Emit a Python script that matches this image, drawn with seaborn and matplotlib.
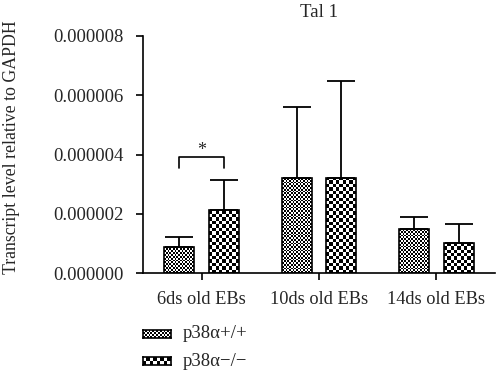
import numpy as np
import pandas as pd
import matplotlib
matplotlib.use("Agg")
import matplotlib.pyplot as plt
import seaborn as sns
from matplotlib.ticker import FormatStrFormatter

# === Données ===
groups = ["6ds old EBs", "10ds old EBs", "14ds old EBs"]
genotypes = ["p38\u03b1+/+", "p38\u03b1\u2212/\u2212"]
wt_mean = [0.88e-6, 3.20e-6, 1.48e-6]
wt_err = [0.33e-6, 2.40e-6, 0.41e-6]
ko_mean = [2.12e-6, 3.22e-6, 1.01e-6]
ko_err = [1.02e-6, 3.25e-6, 0.64e-6]

df = pd.DataFrame({
    "groupe": groups * 2,
    "genotype": [genotypes[0]] * 3 + [genotypes[1]] * 3,
    "valeur": wt_mean + ko_mean,
    "erreur": wt_err + ko_err,
})

sns.set_style("ticks")
plt.rcParams["font.family"] = ["Liberation Serif", "DejaVu Serif"]
plt.rcParams["font.size"] = 13

fig = plt.figure(figsize=(5, 3.75), dpi=100)
ax = fig.add_axes([143 / 500, 102 / 375, 352 / 500, 237 / 375])

sns.barplot(data=df, x="groupe", y="valeur", hue="genotype", order=groups,
            hue_order=genotypes, palette=["white", "white"], saturation=1,
            width=0.76, gap=0.33, edgecolor="black", linewidth=1.2,
            legend=False, ax=ax)
ax.set_xlim(-0.5, 2.5)
ax.set_ylim(0, 8e-6)
ax.set_yticks(np.arange(0, 8.1e-6, 2e-6))
ax.yaxis.set_major_formatter(FormatStrFormatter("%.6f"))
sns.despine(ax=ax)
ax.tick_params(axis="both", length=5, width=1.2, color="black")
ax.tick_params(axis="y", labelsize=13.5, pad=9)
ax.tick_params(axis="x", labelsize=13.2, pad=8)
for s in ["left", "bottom"]:
    ax.spines[s].set_linewidth(1.2)
    ax.spines[s].set_color("black")
ax.set_xlabel("")
ax.set_ylabel("Transcript level relative to GAPDH", fontsize=12.8)
ax.yaxis.set_label_coords(-0.349, 0.53)
ax.set_title("Tal 1", fontsize=13.5, pad=14)


def damier(nx, ny):
    return (np.add.outer(np.arange(ny), np.arange(nx)) % 2).astype(float)


# texture en damier dans chaque barre
fig.canvas.draw()
bars = sorted(ax.patches, key=lambda p: p.get_x())
cells = [1.8, 3.4]
vals = []
for i, p in enumerate(bars):
    k = i % 2
    x0, w, h = p.get_x(), p.get_width(), p.get_height()
    (px0, py0), (px1, py1) = ax.transData.transform([(x0, 0), (x0 + w, h)])
    nx = max(1, int(round((px1 - px0) / cells[k])))
    ny = max(1, int(round((py1 - py0) / cells[k])))
    im = ax.imshow(damier(nx, ny), extent=(x0, x0 + w, 0, h), origin="lower",
                   cmap="gray_r", interpolation="nearest", aspect="auto", zorder=1.5)
    im.set_clip_path(p)
    p.set_facecolor("none")
    p.set_zorder(3)
    vals.append((x0 + w / 2, h, df["erreur"].iloc[k * 3 + i // 2]))

ax.set_xlim(-0.5, 2.5)
ax.set_ylim(0, 8e-6)

xs = [v[0] for v in vals]
ys = [v[1] for v in vals]
es = [v[2] for v in vals]
ax.errorbar(xs, ys, yerr=[np.zeros(len(es)), es], fmt="none", ecolor="black",
            elinewidth=1.3, capsize=10, capthick=1.3, zorder=4)

# significativité
xa, xb = xs[0], xs[1]
ax.plot([xa, xa, xb, xb], [3.54e-6, 3.9e-6, 3.9e-6, 3.54e-6], color="black",
        lw=1.2, clip_on=False)
ax.text((xa + xb) / 2, 4.15e-6, "*", ha="center", va="center", fontsize=13)

# légende
for j, (yc, cell) in enumerate([(334, cells[0]), (361, cells[1])]):
    lax = fig.add_axes([143 / 500, (375 - yc - 4) / 375, 28 / 500, 8 / 375])
    lax.imshow(damier(int(28 / cell), int(8 / cell)), cmap="gray_r",
               interpolation="nearest", aspect="auto")
    lax.set_xticks([])
    lax.set_yticks([])
    for s in lax.spines.values():
        s.set_linewidth(1.2)
        s.set_color("black")
    fig.text(183 / 500, (375 - yc) / 375, genotypes[j], ha="left", va="center",
             fontsize=13.5)

fig.savefig("out.png", dpi=100)
